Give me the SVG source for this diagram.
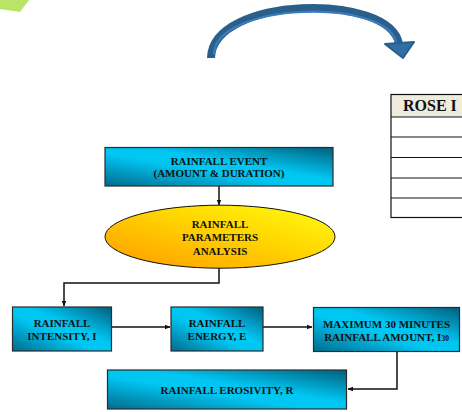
<svg xmlns="http://www.w3.org/2000/svg" width="462" height="412" viewBox="0 0 462 412">
  <style>
    .box { stroke: #2b2b2b; stroke-width: 1.2; fill: url(#boxFill); }
    .lbl { font-family: "Liberation Serif", "Times New Roman", serif; font-weight: bold; font-size: 11px; fill: #111; text-anchor: middle; }
    .wire { fill: none; stroke: #111; stroke-width: 1.5; }
    .grid { stroke: #111; stroke-width: 1.2; }
  </style>
  <defs>
    <linearGradient id="boxFill" x1="0" y1="1" x2="1" y2="0">
      <stop offset="0" stop-color="#006b8c"/>
      <stop offset="0.42" stop-color="#00c6f2"/>
      <stop offset="0.58" stop-color="#00c6f2"/>
      <stop offset="1" stop-color="#005f7e"/>
    </linearGradient>
    <linearGradient id="ovalFill" x1="0" y1="1" x2="1" y2="0">
      <stop offset="0" stop-color="#ff9a00"/>
      <stop offset="0.55" stop-color="#ffd400"/>
      <stop offset="1" stop-color="#ffff10"/>
    </linearGradient>
    <marker id="head" viewBox="0 0 10 10" refX="9" refY="5" markerWidth="6" markerHeight="6" markerUnits="userSpaceOnUse" orient="auto">
      <path d="M0,1 L10,5 L0,9 z" fill="#111"/>
    </marker>
  </defs>

  <!-- corner decoration -->
  <polygon points="0,0 29,0 20,12 0,9" fill="#b9e466"/>

  <!-- curved blue arrow -->
  <g id="curved-arrow">
    <path d="M211,58 C212,-4 390,-8 399,44" fill="none" stroke="#2a5f8c" stroke-width="8" stroke-linecap="butt"/>
    <path d="M214,54 C216,2 386,-2 396,42" fill="none" stroke="#3a7cbc" stroke-width="2.2"/>
    <polygon points="385,44 414,42 403,58" fill="#2f6da5" stroke="#2a5f8c" stroke-width="2" stroke-linejoin="round"/>
  </g>

  <!-- table at right edge -->
  <g id="rose-table">
    <rect x="391" y="94.5" width="80" height="22.5" fill="#eeebdf"/>
    <rect x="391" y="94.5" width="80" height="123" fill="none" stroke="#111" stroke-width="1.2"/>
    <line class="grid" x1="391" y1="117" x2="462" y2="117"/>
    <line class="grid" x1="391" y1="137" x2="462" y2="137"/>
    <line class="grid" x1="391" y1="157.5" x2="462" y2="157.5"/>
    <line class="grid" x1="391" y1="178" x2="462" y2="178"/>
    <line class="grid" x1="391" y1="198" x2="462" y2="198"/>
    <text x="403" y="111" font-family="Liberation Serif, Times New Roman, serif" font-weight="bold" font-size="16" fill="#111">ROSE I</text>
  </g>

  <!-- connectors -->
  <g id="connectors">
    <path class="wire" d="M219,186 V205" marker-end="url(#head)"/>
    <path class="wire" d="M219,268 V283 H64 V306" marker-end="url(#head)"/>
    <path class="wire" d="M111,327 H170" marker-end="url(#head)"/>
    <path class="wire" d="M263,327 H312" marker-end="url(#head)"/>
    <path class="wire" d="M397,352 V389 H348" marker-end="url(#head)"/>
  </g>

  <g id="rainfall-event">
    <rect class="box" x="105" y="147.5" width="228" height="38.5"/>
    <text class="lbl" x="219" y="164.5">RAINFALL EVENT</text>
    <text class="lbl" x="219" y="177">(AMOUNT &amp; DURATION)</text>
  </g>

  <g id="parameters-analysis">
    <ellipse cx="220" cy="236.7" rx="115" ry="31.5" fill="url(#ovalFill)" stroke="#111" stroke-width="1"/>
    <text class="lbl" x="220" y="228">RAINFALL</text>
    <text class="lbl" x="220" y="240.5">PARAMETERS</text>
    <text class="lbl" x="220" y="254.5">ANALYSIS</text>
  </g>

  <g id="rainfall-intensity">
    <rect class="box" x="12.5" y="307" width="99" height="44"/>
    <text class="lbl" x="62" y="327">RAINFALL</text>
    <text class="lbl" x="62" y="339.5">INTENSITY, I</text>
  </g>

  <g id="rainfall-energy">
    <rect class="box" x="171" y="307" width="92" height="44"/>
    <text class="lbl" x="217" y="327">RAINFALL</text>
    <text class="lbl" x="217" y="339.5">ENERGY, E</text>
  </g>

  <g id="max30-amount">
    <rect class="box" x="313.5" y="307.5" width="146" height="44"/>
    <text class="lbl" x="386.5" y="328">MAXIMUM 30 MINUTES</text>
    <text class="lbl" x="386.5" y="340.5">RAINFALL AMOUNT, I<tspan font-size="7.5">30</tspan></text>
  </g>

  <g id="rainfall-erosivity">
    <rect class="box" x="107.5" y="370" width="239" height="39"/>
    <text class="lbl" x="227" y="393.5">RAINFALL EROSIVITY, R</text>
  </g>
</svg>
